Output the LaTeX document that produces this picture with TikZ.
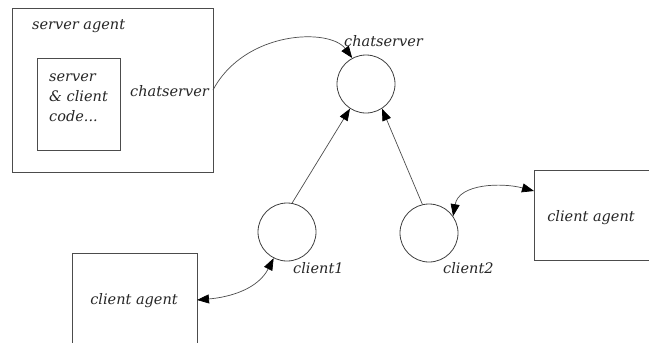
\documentclass[tikz,border=0pt]{standalone}
\usepackage{fontspec}
\setmainfont{DejaVu Serif}
\usetikzlibrary{arrows.meta}
\begin{document}
\begin{tikzpicture}[x=1pt,y=-1pt,
  every node/.style={font=\itshape\fontsize{14.5}{20}\selectfont, inner sep=0pt},
  frame/.style={draw=black!70, line width=0.8pt},
  agent/.style={circle, draw=black!75, line width=0.8pt, minimum size=58pt},
  tip/.style={},
  link/.style={draw=black!70, line width=0.7pt,
    -{Triangle[length=12pt,width=9pt,fill=black,color=black]}},
  duplex/.style={draw=black!70, line width=0.7pt,
    {Triangle[length=12pt,width=9pt,fill=black,color=black]}-{Triangle[length=12pt,width=9pt,fill=black,color=black]}},
  lbl/.style={text=black!85}]
\useasboundingbox (0,0) rectangle (649,343);

% server agent with its embedded code
\draw[frame] (12,8) rectangle (213,172);
\node[lbl, anchor=base west] (srvlbl) at (32,29) {server agent};
\draw[frame] (37,58) rectangle (120,150);
\node[lbl, anchor=base west] (code1) at (49,81) {server};
\node[lbl, anchor=base west] (code2) at (49,101) {\& client};
\node[lbl, anchor=base west] (code3) at (49,121) {code...};
\node[lbl, anchor=base east] (portlbl) at (209,96) {chatserver};
\coordinate (port) at (213,90);

% chat server and clients
\node[agent] (chat) at (366,84) {};
\node[lbl, anchor=base west] (chatlbl) at (344,46) {chatserver};
\node[agent] (c1) at (287,232) {};
\node[lbl, anchor=base west] (c1lbl) at (293,273) {client1};
\node[agent] (c2) at (429,233) {};
\node[lbl, anchor=base west] (c2lbl) at (443,273) {client2};

% client agents
\draw[frame] (72,343) -- (72,253) -- (197,253) -- (197,343);
\node[lbl, anchor=base] (ca1) at (134,304) {client agent};
\coordinate (ca1port) at (197,300);
\draw[frame] (660,170) -- (534,170) -- (534,260) -- (660,260);
\node[lbl, anchor=base] (ca2) at (591,221) {client agent};
\coordinate (ca2port) at (534,191);

% connectors
\draw[link] (port) .. controls (245,30) and (330,28) .. (chat.118);
\draw[link] (c1.80) -- (chat.237);
\draw[link] (c2.103) -- (chat.303);
\draw[duplex] (ca1port) to[out=5,in=243] (c1.243);
\draw[duplex] (c2.35) to[out=80,in=165] (ca2port);
\end{tikzpicture}
\end{document}
